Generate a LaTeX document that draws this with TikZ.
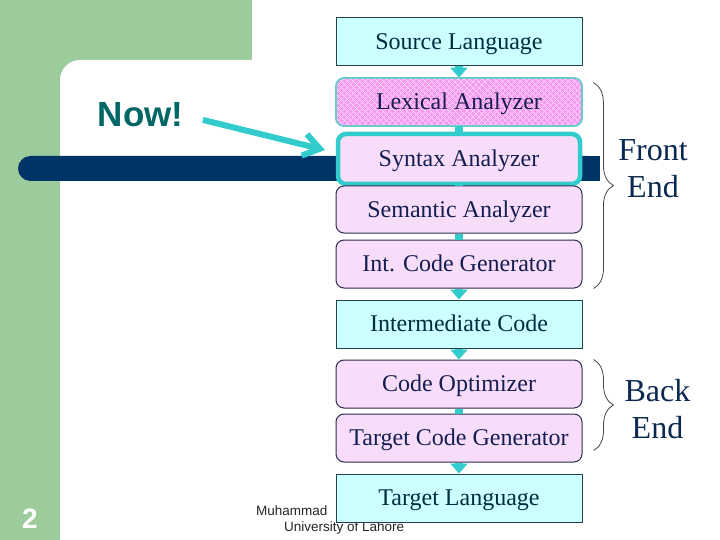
\documentclass[tikz,border=0pt]{standalone}
\usepackage{fontspec}
\setmainfont{Liberation Serif}
\newfontfamily\arialfont{Liberation Sans}
\usepackage{tikz}
\usetikzlibrary{arrows.meta,decorations.pathreplacing,patterns.meta}
\definecolor{greenbg}{RGB}{156,204,156}
\definecolor{barnavy}{RGB}{0,51,102}
\definecolor{cyanfill}{RGB}{204,255,255}
\definecolor{cyanedge}{RGB}{35,65,75}
\definecolor{pinkfill}{RGB}{247,221,250}
\definecolor{pinkedge}{RGB}{45,45,80}
\definecolor{lexfill}{RGB}{245,155,240}
\definecolor{lexhatch}{RGB}{255,215,255}
\definecolor{lexedge}{RGB}{102,204,204}
\definecolor{flowcol}{RGB}{51,204,204}
\definecolor{stagetext}{RGB}{20,30,80}
\definecolor{datatext}{RGB}{0,45,65}
\definecolor{endnavy}{RGB}{10,40,80}
\definecolor{nowteal}{RGB}{0,102,102}
\definecolor{bracegray}{RGB}{70,70,70}
\tikzstyle{stage} = [draw=pinkedge, line width=1pt, fill=pinkfill, rounded corners=8pt, minimum width=246pt, minimum height=48pt, inner sep=0pt, text=stagetext, font=\fontsize{24}{28}\selectfont, text height=15.9pt, text depth=0pt]
\tikzstyle{data} = [stage, draw=cyanedge, fill=cyanfill, rounded corners=0pt, text=datatext]
\tikzstyle{lexstage} = [stage, draw=lexedge, line width=1.8pt, preaction={fill=lexfill}, preaction={pattern={Lines[angle=45,distance=4pt,line width=0.8pt]}, pattern color=lexhatch}, pattern={Lines[angle=-45,distance=4pt,line width=0.8pt]}, pattern color=lexhatch]
\tikzstyle{current} = [stage, draw=flowcol, line width=4.5pt, minimum width=242pt, minimum height=50pt]
\tikzstyle{flow} = [draw=flowcol, line width=8pt, -{Triangle[length=10pt,width=17pt]}]
\tikzstyle{pipe} = [draw=flowcol, line width=8pt]
\tikzstyle{endbrace} = [draw=bracegray, line width=0.8pt, decorate, decoration={brace, amplitude=20pt}]
\tikzstyle{endlabel} = [align=center, text=endnavy, font=\fontsize{32}{37}\selectfont]
\tikzstyle{footer} = [inner sep=0pt, anchor=base west, text={black!85}, font=\arialfont\fontsize{13.5}{16}\selectfont]

\begin{document}
\begin{tikzpicture}[x=1pt,y=-1pt]
  \useasboundingbox (0,0) rectangle (720,540);
  % slide background
  \fill [greenbg] (0,0) rectangle (252,540);
  \fill [white, rounded corners=20pt] (60,60) rectangle (780,600);
  \fill [barnavy, rounded corners=12.5pt] (18,156) rectangle (600,181);
  \fill [barnavy] (560,156) rectangle (600,181);
  \node (pageno) at (30,528) [anchor=base, text=white, font=\arialfont\bfseries\fontsize{28}{32}\selectfont] {2};
  \node (author) at (256,515) [footer] {Muhammad};
  \node (univ) at (284,531) [footer] {University of Lahore};
  % phases
  \node (src) at (459,42) [data] {Source Language};
  \node (lex) at (459,102) [lexstage] {Lexical Analyzer};
  \node (syn) at (459,159) [current] {Syntax Analyzer};
  \node (sem) at (459,209.5) [stage, minimum height=47pt] {Semantic Analyzer\hspace{12pt}};
  \node (icg) at (459,264) [stage] {Int. Code Generator\hspace{12pt}};
  \node (imc) at (459,324) [data] {Intermediate Code};
  \node (opt) at (459,384) [stage] {Code Optimizer\hspace{12pt}};
  \node (tcg) at (459,438) [stage] {Target Code Generator\hspace{12pt}};
  \node (tgt) at (459,498) [data] {Target Language};
  \draw [flow] (src) to (lex);
  \draw [pipe] (lex) to (syn);
  \draw [pipe] (syn) to (sem);
  \draw [pipe] (sem) to (icg);
  \draw [flow] (icg) to (imc);
  \draw [flow] (imc) to (opt);
  \draw [pipe] (opt) to (tcg);
  \draw [flow] (tcg) to (tgt);
  % front end / back end
  \draw [endbrace] ([xshift=11pt,yshift=-5pt]lex.north east) -- ([xshift=11pt]icg.south east);
  \draw [endbrace] ([xshift=11pt]opt.north east) -- ([xshift=11pt,yshift=12pt]tcg.south east);
  \node (fe) at (653,168.5) [endlabel] {Front\\End};
  \node (be) at (657.5,409.5) [endlabel] {Back\\End};
  % now pointer
  \node (now) at (140.5,127) [anchor=base, inner sep=0pt, text=nowteal, font=\arialfont\bfseries\fontsize{35}{40}\selectfont] {Now!};
  \coordinate (nowtip) at (325,150);
  \draw [flowcol, line width=6pt, shorten <=20pt, -{Straight Barb[length=16pt,width=22pt]}] (now.east) -- (nowtip);
\end{tikzpicture}
\end{document}
